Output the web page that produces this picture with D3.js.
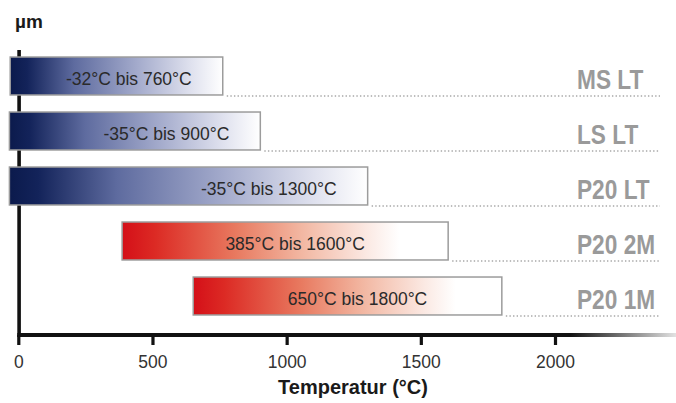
<!DOCTYPE html>
<html><head><meta charset="utf-8">
<script src="https://cdn.jsdelivr.net/npm/d3@7"></script>
<style>body{margin:0;background:#fff}svg{display:block}</style>
</head><body>
<svg id="c" width="676" height="403"></svg>
<script>
const categories = ["MS LT", "LS LT", "P20 LT", "P20 2M", "P20 1M"];
const minTemps = [-32, -35, -35, 385, 650];
const maxTemps = [760, 900, 1300, 1600, 1800];
const kinds = ["cold", "cold", "cold", "hot", "hot"];
const tickValues = [0, 500, 1000, 1500, 2000];
const xTitle = "Temperatur (°C)";
const yTitle = "µm";

const svg = d3.select("#c");
const font = "Liberation Sans, Arial, Helvetica, sans-serif";
const x = d3.scaleLinear().domain([0, 2000]).range([18.8, 555.5]);
const y = d3.scaleBand().domain(categories).range([48.5, 323.5]).paddingInner(0.31).paddingOuter(0.155);

const defs = svg.append("defs");
const gb = defs.append("linearGradient").attr("id", "gcold");
[[0, "#0b1a4c"], [0.08, "#13235a"], [0.3, "#5e6b9f"], [0.6, "#a4abcc"], [0.85, "#dfe1ee"], [1, "#ffffff"]]
  .forEach(([o, c]) => gb.append("stop").attr("offset", o).attr("stop-color", c));
const gr = defs.append("linearGradient").attr("id", "ghot");
[[0, "#d40f18"], [0.1, "#dc2a24"], [0.35, "#e87a60"], [0.55, "#f2b7a2"], [0.75, "#fbe9e3"], [0.85, "#ffffff"], [1, "#ffffff"]]
  .forEach(([o, c]) => gr.append("stop").attr("offset", o).attr("stop-color", c));
const ga = defs.append("linearGradient").attr("id", "gaxis");
[[0, "#111"], [0.84, "#111"], [0.92, "#777"], [1, "#e2e2e2"]]
  .forEach(([o, c]) => ga.append("stop").attr("offset", o).attr("stop-color", c));

const data = categories.map((c, i) => ({ c, lo: minTemps[i], hi: maxTemps[i], kind: kinds[i] }));

// dotted guide lines
svg.selectAll(".dot").data(data).enter().append("line")
  .attr("x1", d => x(d.hi) + 4).attr("x2", 660)
  .attr("y1", d => y(d.c) + y.bandwidth() + 1).attr("y2", d => y(d.c) + y.bandwidth() + 1)
  .attr("stroke", "#a8a8a8").attr("stroke-width", 1.4).attr("stroke-dasharray", "1.4,2.2");

// y axis line
svg.append("rect").attr("x", 17.3).attr("y", 50).attr("width", 3.6).attr("height", 287).attr("fill", "#111");

// bars
svg.selectAll(".bar").data(data).enter().append("rect")
  .attr("x", d => x(d.lo)).attr("y", d => y(d.c))
  .attr("width", d => x(d.hi) - x(d.lo)).attr("height", y.bandwidth())
  .attr("fill", d => d.kind === "cold" ? "url(#gcold)" : "url(#ghot)")
  .attr("stroke", "#9c9c9c").attr("stroke-width", 1.5);

// bar labels
svg.selectAll(".bl").data(data).enter().append("text")
  .attr("x", d => d.kind === "cold" ? x(d.hi) - 31 : (x(d.lo) + x(d.hi)) / 2 + 10)
  .attr("y", d => y(d.c) + y.bandwidth() / 2 + 8.5)
  .attr("text-anchor", d => d.kind === "cold" ? "end" : "middle")
  .attr("font-family", font).attr("font-size", 17.5).attr("fill", "#2a2a2a")
  .text(d => `${d.lo}°C bis ${d.hi}°C`);

// right labels
svg.selectAll(".rl").data(data).enter().append("text")
  .attr("transform", d => `translate(577,${y(d.c) + y.bandwidth() - 6}) scale(0.84,1)`)
  .attr("font-family", font).attr("font-weight", "bold").attr("font-size", 27).attr("fill", "#9a9a9a")
  .text(d => d.c);

// x axis line with fade
svg.append("rect").attr("x", 17.3).attr("y", 333).attr("width", 676 - 17.3).attr("height", 4).attr("fill", "url(#gaxis)");

// ticks + labels
const xa = svg.append("g");
xa.selectAll(".tk").data(tickValues).enter().append("rect")
  .attr("x", d => x(d) - 1.6).attr("y", 335).attr("width", 3.2).attr("height", 10).attr("fill", "#111");
xa.selectAll(".tl").data(tickValues).enter().append("text")
  .attr("x", d => x(d)).attr("y", 368).attr("text-anchor", "middle")
  .attr("font-family", font).attr("font-size", 17.5).attr("fill", "#333")
  .text(d => d);

svg.append("text").attr("x", 353).attr("y", 394).attr("text-anchor", "middle")
  .attr("font-family", font).attr("font-weight", "bold").attr("font-size", 20).attr("fill", "#1a1a1a")
  .text(xTitle);
svg.append("text").attr("x", 15).attr("y", 28)
  .attr("font-family", font).attr("font-weight", "bold").attr("font-size", 19).attr("fill", "#1a1a1a")
  .text(yTitle);
</script>
</body></html>
